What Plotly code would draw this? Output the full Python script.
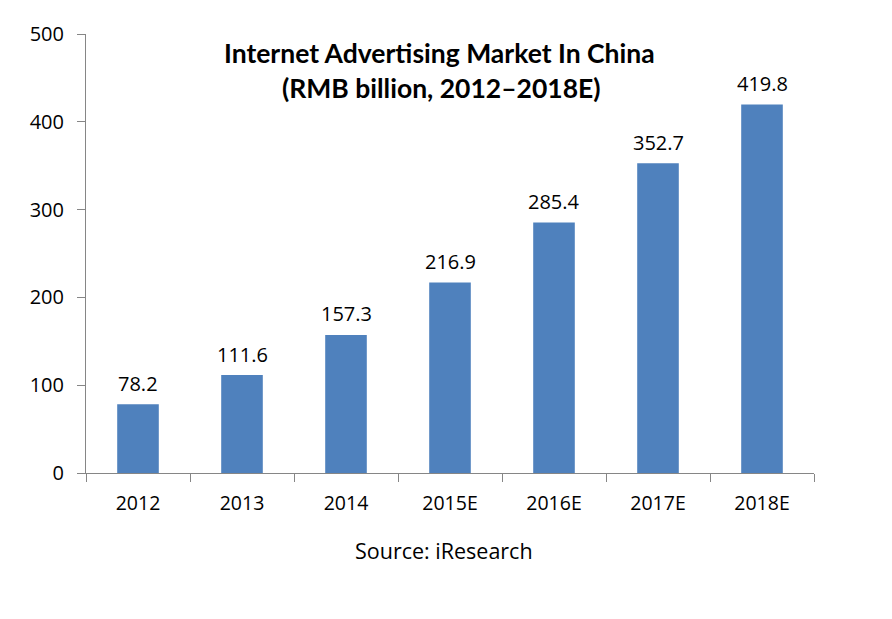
import plotly.graph_objects as go

categories = ["2012", "2013", "2014", "2015E", "2016E", "2017E", "2018E"]
values = [78.2, 111.6, 157.3, 216.9, 285.4, 352.7, 419.8]
labels = ["78.2", "111.6", "157.3", "216.9", "285.4", "352.7", "419.8"]
title_lines = ["Internet Advertising Market In China", "(RMB billion, 2012\u20132018E)"]
source_text = "Source: iResearch"

FONT = "'Open Sans', 'Noto Sans', sans-serif"
TFONT = "Lato, 'Open Sans', sans-serif"

fig = go.Figure(go.Bar(
    x=categories, y=values,
    marker=dict(color="#4F81BD", line=dict(width=0)),
    hoverinfo="x+y",
))

# value labels, positioned on the category axis by category index
annotations = [
    dict(text=lab, x=i, y=v, xref="x", yref="y", showarrow=False,
         xanchor="center", yanchor="middle", yshift=21,
         font=dict(size=20, family=FONT, color="#000000"))
    for i, (v, lab) in enumerate(zip(values, labels))
]
annotations += [
    dict(text="<b>" + title_lines[0] + "</b>",
         xref="paper", yref="paper", x=0.486, y=0.957, xanchor="center", yanchor="middle",
         showarrow=False, font=dict(size=26.5, family=TFONT, color="#000000")),
    dict(text="<b>" + title_lines[1] + "</b>",
         xref="paper", yref="paper", x=0.489, y=0.878, xanchor="center", yanchor="middle",
         showarrow=False, font=dict(size=26.5, family=TFONT, color="#000000")),
    dict(text=source_text, xref="paper", yref="paper", x=0.492, y=-0.177,
         xanchor="center", yanchor="middle", showarrow=False,
         font=dict(size=21.5, family=FONT, color="#000000")),
]

fig.update_layout(
    width=884, height=611,
    margin=dict(l=78, r=78, t=24, b=146),
    paper_bgcolor="white", plot_bgcolor="white",
    bargap=0.6, showlegend=False,
    font=dict(family=FONT, size=18, color="#000000"),
    xaxis=dict(
        type="category", categoryorder="array", categoryarray=categories,
        range=[-0.5, len(categories) - 0.5],
        showgrid=False, showline=True, linecolor="#868686", linewidth=1,
        ticks="outside", tickson="boundaries", ticklen=8, tickcolor="#868686",
        ticklabelstandoff=13, tickangle=0,
        tickfont=dict(size=19.5, family=FONT, color="#000000"), zeroline=False,
    ),
    yaxis=dict(
        range=[0, 500], tickvals=[0, 100, 200, 300, 400, 500], showgrid=False,
        showline=True, linecolor="#868686", linewidth=1,
        ticks="outside", ticklen=8, tickcolor="#868686",
        ticklabelstandoff=9,
        tickfont=dict(size=20, family=FONT, color="#000000"), zeroline=False,
    ),
    annotations=annotations,
)

fig.write_html("out.html")
